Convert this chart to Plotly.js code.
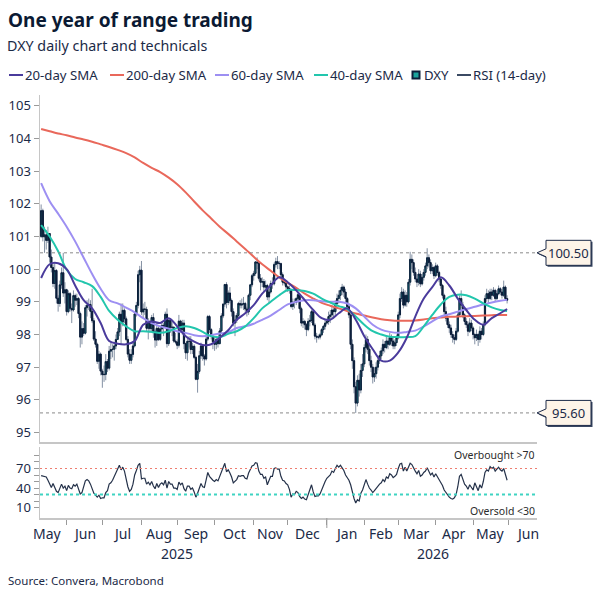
<!DOCTYPE html>
<html>
<head>
<meta charset="utf-8">
<script src="https://cdn.plot.ly/plotly-3.0.1.min.js"></script>
<style>html,body{margin:0;padding:0;background:#fff}#chart{width:601px;height:601px}</style>
</head>
<body>
<div id="chart"></div>
<script>
// ---------- DATA ----------
const firstDay = '2025-05-12';   // first trading day shown
const tradingDayCount = 275;     // 55 weeks of weekday candles

// DXY daily candles, one row per week (Mon..Fri)
const dxyOpen = [
101.00,101.79,100.99,101.05,100.88, 101.09,100.37,100.05,99.56,99.96, 99.11,98.95,99.52,99.89,99.27,
99.37,98.70,99.25,98.80,98.75, 99.19,99.05,99.10,98.64,97.92, 98.18,98.04,98.82,98.89,98.92,
98.71,98.42,97.86,97.70,97.18, 97.40,96.88,96.77,96.78,97.17, 96.97,97.49,97.54,97.55,97.65,
97.85,98.08,98.62,98.38,98.74, 98.48,97.85,97.40,97.21,97.39, 97.65,98.63,98.89,99.83,99.97,
98.69,98.78,98.77,98.19,98.39, 98.18,98.52,98.09,97.83,98.19, 97.85,98.17,98.28,98.23,98.62,
97.72,98.43,98.22,98.22,97.80, 97.77,97.67,98.41,98.15,98.35, 97.72,97.44,97.79,97.79,97.54,
97.64,97.30,96.63,96.87,97.35, 97.65,97.34,97.25,97.86,98.55, 98.15,97.94,97.78,97.70,97.85,
97.72,98.11,98.57,98.93,99.53, 98.98,99.27,99.04,98.70,98.35, 98.44,98.58,98.95,98.90,98.93,
98.95,98.78,98.69,99.20,99.52, 99.80,99.87,100.22,100.19,99.72, 99.60,99.62,99.45,99.50,99.15,
99.30,99.56,99.55,100.14,100.23, 100.18,100.17,99.83,99.60,99.58, 99.46,99.41,99.37,98.86,98.99,
98.98,99.10,99.22,98.79,98.35, 98.40,98.30,98.15,98.40,98.43, 98.70,98.29,97.95,97.92,97.92,
97.99,98.15,98.25,98.35,98.40, 98.55,98.60,98.75,98.70,98.95, 99.10,99.20,99.35,99.45,99.30,
99.10,98.85,98.60,97.70,97.20, 96.40,95.90,96.60,96.30,96.90, 97.10,97.60,97.85,97.55,97.20,
97.00,96.70,96.80,97.00,97.20, 97.35,97.50,97.70,97.60,97.80, 97.70,97.90,97.80,97.65,97.75,
97.90,98.60,99.10,99.30,98.90, 99.20,99.00,99.60,100.30,100.20, 99.90,99.70,99.60,99.85,99.55,
99.75,99.90,100.10,100.35,100.20, 99.95,100.05,99.80,100.10,99.90, 99.70,99.50,99.20,98.70,98.50,
98.30,98.20,98.00,97.90,97.85, 98.10,98.60,99.10,98.90,98.60, 98.40,98.30,98.10,98.35,98.20,
98.00,97.90,98.00,97.85,98.10, 98.00,98.30,99.10,99.25,99.10, 99.30,99.20,99.35,99.10,99.25,
99.40,99.30,99.20,99.45,99.10
];
const dxyHigh = [
101.98,101.85,101.30,101.20,101.30, 101.10,100.60,100.15,100.20,100.00, 99.20,99.65,100.05,100.50,99.60,
99.40,99.35,99.30,98.95,99.35, 99.25,99.25,99.15,98.70,98.40, 98.35,98.90,99.05,99.10,99.05,
99.40,98.50,98.10,97.75,97.50, 97.45,96.95,97.05,97.40,97.25, 97.65,97.75,97.70,97.75,98.00,
98.20,98.70,98.95,98.95,98.80, 98.55,97.95,97.55,97.55,97.80, 98.70,99.00,99.95,100.10,100.25,
98.95,99.00,98.85,98.50,98.45, 98.60,98.65,98.15,98.35,98.25, 98.25,98.40,98.35,98.70,98.80,
98.50,98.50,98.40,98.25,98.05, 97.85,98.60,98.45,98.45,98.45, 97.75,97.90,97.95,97.95,97.75,
97.70,97.35,97.10,97.50,97.75, 97.70,97.40,97.95,98.60,98.60, 98.20,98.00,97.95,97.95,97.95,
98.20,98.65,98.95,99.55,99.60, 99.35,99.45,99.10,98.80,98.60, 98.65,99.00,99.05,99.10,99.15,
99.00,98.85,99.25,99.55,99.85, 99.95,100.25,100.36,100.25,99.85, 99.75,99.70,99.65,99.55,99.40,
99.65,99.75,100.20,100.35,100.40, 100.25,100.20,99.90,99.70,99.65, 99.50,99.50,99.40,99.10,99.10,
99.15,99.30,99.25,98.85,98.50, 98.45,98.35,98.50,98.60,98.75, 98.75,98.35,98.05,98.00,98.05,
98.20,98.30,98.45,98.45,98.70, 98.75,98.90,98.85,99.05,99.25, 99.35,99.45,99.55,99.50,99.40,
99.15,98.95,98.70,97.85,97.30, 96.55,96.75,96.80,97.10,97.40, 97.70,98.00,97.95,97.65,97.35,
97.10,97.00,97.15,97.35,97.50, 97.60,97.85,97.80,97.95,97.90, 98.05,98.00,97.90,97.85,98.00,
98.70,99.25,99.45,99.40,99.35, 99.30,99.70,100.53,100.45,100.30, 100.05,99.85,100.00,99.95,99.85,
100.00,100.20,100.64,100.45,100.30, 100.15,100.10,100.20,100.15,99.95, 99.75,99.55,99.25,98.85,98.60,
98.40,98.30,98.10,98.00,98.20, 98.70,99.20,99.35,99.00,98.65, 98.50,98.40,98.50,98.45,98.25,
98.05,98.15,98.05,98.25,98.20, 98.40,99.20,99.40,99.35,99.40, 99.40,99.45,99.40,99.35,99.50,
99.45,99.40,99.65,99.50,99.20
];
const dxyLow = [
100.95,100.85,100.50,100.60,100.80, 100.20,99.90,99.45,99.40,98.95, 98.70,98.85,99.40,99.15,98.95,
98.58,98.65,98.70,98.35,98.70, 98.85,98.90,98.50,97.60,97.70, 97.95,98.00,98.55,98.75,98.50,
98.35,97.80,97.60,97.10,96.95, 96.75,96.37,96.55,96.60,96.85, 96.90,97.25,97.30,97.20,97.55,
97.85,97.95,97.70,98.25,98.35, 97.80,97.30,97.10,97.10,97.30, 97.60,98.55,98.80,99.60,98.60,
98.50,98.60,98.10,97.85,98.05, 98.10,97.90,97.60,97.65,97.80, 97.80,98.05,97.95,98.20,97.60,
97.65,98.05,97.95,97.75,97.70, 97.55,97.60,98.05,98.00,97.55, 97.25,97.20,97.60,97.40,97.40,
97.25,96.60,96.22,96.80,97.25, 97.20,97.05,97.20,97.80,98.05, 97.85,97.55,97.50,97.55,97.60,
97.70,98.05,98.50,98.85,98.80, 98.90,98.95,98.55,98.25,97.95, 98.35,98.50,98.80,98.80,98.75,
98.70,98.55,98.60,99.05,99.45, 99.65,99.80,100.00,99.65,99.35, 99.45,99.30,99.35,99.05,98.95,
99.25,99.40,99.50,100.05,100.00, 100.00,99.75,99.50,99.50,99.35, 99.30,99.25,98.80,98.75,98.80,
98.90,99.00,98.65,98.25,98.20, 98.15,97.95,98.10,98.25,98.35, 98.25,97.85,97.75,97.85,97.85,
97.95,98.05,98.15,98.30,98.30, 98.35,98.50,98.50,98.60,98.85, 98.95,99.05,99.20,99.15,98.95,
98.70,98.50,97.55,96.95,96.20, 95.60,95.80,96.10,96.20,96.70, 97.00,97.45,97.40,97.05,96.85,
96.50,96.55,96.65,96.90,97.10, 97.25,97.40,97.45,97.55,97.55, 97.65,97.65,97.55,97.55,97.65,
97.85,98.50,99.00,98.80,98.85, 98.85,98.95,99.50,100.00,99.80, 99.60,99.45,99.50,99.45,99.50,
99.65,99.80,100.00,100.05,99.85, 99.85,99.70,99.75,99.80,99.60, 99.40,99.10,98.60,98.40,98.20,
98.05,97.90,97.75,97.70,97.80, 98.05,98.55,98.80,98.50,98.30, 98.20,97.95,98.05,98.10,97.85,
97.70,97.80,97.65,97.75,97.85, 97.95,98.25,99.00,98.95,99.05, 99.05,99.15,99.00,99.05,99.20,
99.20,99.10,99.15,99.05,98.95
];
const dxyClose = [
101.79,100.99,101.05,100.88,101.09, 100.37,100.05,99.56,99.96,99.11, 98.95,99.52,99.89,99.27,99.37,
98.70,99.25,98.80,98.75,99.19, 99.05,99.10,98.64,97.92,98.18, 98.04,98.82,98.89,98.92,98.71,
98.42,97.86,97.70,97.18,97.40, 96.88,96.77,96.78,97.17,96.97, 97.49,97.54,97.55,97.65,97.85,
98.08,98.62,98.38,98.74,98.48, 97.85,97.40,97.21,97.39,97.65, 98.63,98.89,99.83,99.97,98.69,
98.78,98.77,98.19,98.39,98.18, 98.52,98.09,97.83,98.19,97.85, 98.17,98.28,98.23,98.62,97.72,
98.43,98.22,98.22,97.80,97.77, 97.67,98.41,98.15,98.35,97.72, 97.44,97.79,97.79,97.54,97.64,
97.30,96.63,96.87,97.35,97.65, 97.34,97.25,97.86,98.55,98.15, 97.94,97.78,97.70,97.85,97.72,
98.11,98.57,98.93,99.53,98.98, 99.27,99.04,98.70,98.35,98.44, 98.58,98.95,98.90,98.93,98.95,
98.78,98.69,99.20,99.52,99.80, 99.87,100.22,100.19,99.72,99.60, 99.62,99.45,99.50,99.15,99.30,
99.56,99.55,100.14,100.23,100.18, 100.17,99.83,99.60,99.58,99.46, 99.41,99.37,98.86,98.99,98.98,
99.10,99.22,98.79,98.35,98.40, 98.30,98.15,98.40,98.43,98.70, 98.29,97.95,97.92,97.92,97.99,
98.15,98.25,98.35,98.40,98.55, 98.60,98.75,98.70,98.95,99.10, 99.20,99.35,99.45,99.30,99.10,
98.85,98.60,97.70,97.20,96.40, 95.90,96.60,96.30,96.90,97.10, 97.60,97.85,97.55,97.20,97.00,
96.70,96.80,97.00,97.20,97.35, 97.50,97.70,97.60,97.80,97.70, 97.90,97.80,97.65,97.75,97.90,
98.60,99.10,99.30,98.90,99.20, 99.00,99.60,100.30,100.20,99.90, 99.70,99.60,99.85,99.55,99.75,
99.90,100.10,100.35,100.20,99.95, 100.05,99.80,100.10,99.90,99.70, 99.50,99.20,98.70,98.50,98.30,
98.20,98.00,97.90,97.85,98.10, 98.60,99.10,98.90,98.60,98.40, 98.30,98.10,98.35,98.20,98.00,
97.90,98.00,97.85,98.10,98.00, 98.30,99.10,99.25,99.10,99.30, 99.20,99.35,99.10,99.25,99.40,
99.30,99.20,99.45,99.10,99.05
];

// Moving averages, read once per week (each Monday) plus the last day
const sma20 = [99.73,100.15,100.18,100.0,99.5,99.05,98.8,98.35,97.8,97.72,97.7,97.8,98.3,98.4,98.35,98.5,98.25,97.95,97.78,97.68,97.7,97.9,98.13,98.45,98.65,98.9,99.25,99.5,99.75,99.6,99.35,99.05,98.75,98.5,98.45,98.65,98.8,98.45,97.95,97.55,97.2,97.2,97.45,97.9,98.55,99.1,99.45,99.75,99.5,99.1,98.75,98.45,98.3,98.5,98.65,98.78];
const sma200 = [104.29,104.22,104.15,104.1,104.03,103.97,103.9,103.82,103.74,103.65,103.55,103.42,103.25,103.1,102.97,102.8,102.6,102.35,102.07,101.8,101.55,101.3,101.08,100.85,100.62,100.38,100.15,99.95,99.75,99.58,99.43,99.25,99.1,98.97,98.88,98.8,98.72,98.64,98.58,98.52,98.47,98.44,98.42,98.42,98.43,98.46,98.5,98.52,98.54,98.55,98.56,98.57,98.58,98.59,98.6,98.6];
const sma60 = [102.63,102.08,101.7,101.3,100.85,100.35,99.85,99.4,99.05,98.95,98.82,98.68,98.5,98.35,98.25,98.18,98.1,98.05,97.98,97.95,97.98,98.03,98.07,98.2,98.25,98.33,98.45,98.58,98.75,98.92,99.0,99.05,99.05,99.02,99.0,99.0,98.95,98.8,98.55,98.3,98.15,98.08,98.05,98.08,98.12,98.25,98.4,98.55,98.62,98.7,98.78,98.85,98.92,98.98,99.03,99.06];
const sma40 = [101.35,101.0,100.55,99.98,99.7,99.6,99.48,99.15,98.72,98.45,98.25,98.1,98.1,98.08,98.05,98.1,98.2,98.25,98.2,98.08,97.95,97.92,98.02,98.1,98.25,98.5,98.8,99.0,99.2,99.36,99.36,99.33,99.25,99.1,98.98,98.87,98.78,98.55,98.3,98.1,98.0,97.93,97.92,97.92,97.95,98.25,98.6,98.92,99.15,99.22,99.2,99.1,98.95,98.83,98.75,98.72];

// RSI (14-day), one row per week
const rsi14 = [
59,58,58,57,52, 45,41,47,40,35, 33,39,46,40,43, 36,44,40,39,45, 43,46,37,31,33,
42,51,53,51,46, 40,32,29,26,29, 24,25,25,33,36, 46,48,52,58,62, 70,75,68,72,66,
53,42,35,38,46, 60,67,75,78,54, 55,55,46,49,45, 50,43,39,47,41, 46,48,45,52,40,
50,46,46,40,40, 38,49,45,48,39, 35,43,43,38,40, 34,26,32,41,47, 42,41,52,64,58,
54,52,50,53,51, 58,66,71,78,65, 68,63,57,48,50, 53,59,58,59,59, 55,54,63,69,74,
75,79,78,66,61, 61,55,57,45,51, 58,58,70,71,69, 69,58,52,51,47, 45,38,26,31,30,
35,33,27,24,26, 23,22,30,36,45, 34,27,28,28,31, 38,44,50,55,58, 60,66,64,70,75,
72,75,71,67,60, 56,52,45,33,24, 17,22,20,32,37, 47,53,46,40,37, 33,36,40,44,46,
48,53,50,57,55, 62,60,56,58,61, 70,77,78,66,72, 66,72,78,76,70, 66,62,67,58,60,
64,66,71,66,60, 63,57,62,58,53, 49,44,37,33,28, 26,24,23,25,30, 42,58,61,52,46,
43,38,45,41,37, 48,42,36,45,40, 50,64,68,66,73, 70,72,66,69,72, 68,66,70,60,52
];

const rangeLines = [100.5, 95.6];
const rangeLabels = ['100.50', '95.60'];
const rsiBands = {overbought: 70, oversold: 30};
const monthLabels = ['May', 'Jun', 'Jul', 'Aug', 'Sep', 'Oct', 'Nov', 'Dec', 'Jan', 'Feb', 'Mar', 'Apr', 'May', 'Jun'];
const firstMonth = {year: 2025, month: 5};
const xRange = ['2025-05-09 08:00', '2026-06-23 14:00'];
const yearLabels = ['2025', '2026'];

// ---------- helpers ----------
const iso = d => d.toISOString().slice(0, 10);
function tradingDays(start, n) {
  const out = [];
  const d = new Date(start + 'T00:00:00Z');
  while (out.length < n) {
    const w = d.getUTCDay();
    if (w !== 0 && w !== 6) out.push(iso(d));
    d.setUTCDate(d.getUTCDate() + 1);
  }
  return out;
}
function monthWeekdays(y, m) { // m: 1..12
  const out = [];
  const d = new Date(Date.UTC(y, m - 1, 1));
  while (d.getUTCMonth() === m - 1) {
    const w = d.getUTCDay();
    if (w !== 0 && w !== 6) out.push(iso(d));
    d.setUTCDate(d.getUTCDate() + 1);
  }
  return out;
}
const dates = tradingDays(firstDay, tradingDayCount);
const smaDates = [];
for (let i = 0; i < dates.length; i += 5) smaDates.push(dates[i]);
smaDates.push(dates[dates.length - 1]);
const bodyHigh = dxyOpen.map((o, i) => Math.max(o, dxyClose[i]));
const bodyLow = dxyOpen.map((o, i) => Math.min(o, dxyClose[i]));

// month boundaries (tick marks) and label centres
const monthStarts = [];
const monthCentres = [];
monthLabels.forEach((lab, i) => {
  const t = firstMonth.month - 1 + i;
  const y = firstMonth.year + Math.floor(t / 12), m = (t % 12) + 1;
  const wd = monthWeekdays(y, m);
  const n = wd.length;
  monthCentres.push(wd[Math.floor(n / 2)] + (n % 2 ? ' 12:00' : ' 00:00'));
  if (i > 0) monthStarts.push(wd[0]);
});

const FONT = '"Noto Sans", "Open Sans", sans-serif';
const INK = '#1b2a47';
const C20 = '#4a3b9c', C200 = '#e9685b', C60 = '#9d8ff2', C40 = '#22c6ad', CDXY = '#0c1e3a', CRSI = '#25324a';

// pixel -> paper helpers (plot area: x 40..537, y 95..518)
const L = 40, R = 64, T = 95, B = 83, W = 601, H = 601;
const PW = W - L - R, PH = H - T - B;
const px = v => (v - L) / PW;
const py = v => (H - B - v) / PH;

const traces = [
  {type: 'candlestick', x: dates, open: dxyOpen, high: dxyHigh, low: dxyLow, close: dxyClose,
   increasing: {line: {color: '#8390a3', width: 1}, fillcolor: '#8390a3'},
   decreasing: {line: {color: '#8390a3', width: 1}, fillcolor: '#8390a3'},
   whiskerwidth: 0, hoverinfo: 'skip', showlegend: false, xaxis: 'x', yaxis: 'y'},
  {type: 'candlestick', name: 'DXY', x: dates, open: dxyOpen, high: bodyHigh, low: bodyLow, close: dxyClose,
   increasing: {line: {color: CDXY, width: 1}, fillcolor: '#1aa39d'},
   decreasing: {line: {color: CDXY, width: 1}, fillcolor: CDXY},
   whiskerwidth: 0, showlegend: false, xaxis: 'x', yaxis: 'y'},
  {type: 'scatter', mode: 'lines', name: '200-day SMA', x: smaDates, y: sma200, line: {color: C200, width: 2, shape: 'spline'}, xaxis: 'x', yaxis: 'y'},
  {type: 'scatter', mode: 'lines', name: '60-day SMA', x: smaDates, y: sma60, line: {color: C60, width: 2, shape: 'spline'}, xaxis: 'x', yaxis: 'y'},
  {type: 'scatter', mode: 'lines', name: '40-day SMA', x: smaDates, y: sma40, line: {color: C40, width: 2, shape: 'spline'}, xaxis: 'x', yaxis: 'y'},
  {type: 'scatter', mode: 'lines', name: '20-day SMA', x: smaDates, y: sma20, line: {color: C20, width: 2, shape: 'spline'}, xaxis: 'x', yaxis: 'y'},
  {type: 'scatter', mode: 'lines', name: 'RSI (14-day)', x: dates, y: rsi14, line: {color: CRSI, width: 1.2}, xaxis: 'x2', yaxis: 'y2'}
];

const shapes = [];
const annotations = [];

// dashed range lines + callout labels
rangeLines.forEach((v, i) => {
  shapes.push({type: 'line', xref: 'paper', yref: 'y', x0: 0, x1: 1, y0: v, y1: v, line: {color: '#8a8a8a', width: 1, dash: '3px,3px'}, layer: 'above'});
  shapes.push({type: 'path', xref: 'paper', yref: 'y', xsizemode: 'pixel', ysizemode: 'pixel', xanchor: 1, yanchor: v,
    path: 'M1.5,-1.5 L10.5,2.5 L10.5,11 L55.5,11 L55.5,-14 L10.5,-14 L10.5,-5.5 Z', fillcolor: '#3a4863', line: {width: 0}, layer: 'above'});
  shapes.push({type: 'path', xref: 'paper', yref: 'y', xsizemode: 'pixel', ysizemode: 'pixel', xanchor: 1, yanchor: v,
    path: 'M0,0 L9,4 L9,12.5 L54,12.5 L54,-12.5 L9,-12.5 L9,-4 Z', fillcolor: '#fdf4e8', line: {color: '#1c2a48', width: 1}, layer: 'above'});
  annotations.push({xref: 'paper', yref: 'y', x: 1 + 31.5 / PW, y: v, text: rangeLabels[i], showarrow: false, xanchor: 'center', yanchor: 'middle', font: {size: 13, color: INK}});
});

// RSI bands
shapes.push({type: 'line', xref: 'paper', yref: 'y2', x0: 0, x1: 1, y0: rsiBands.overbought, y1: rsiBands.overbought, line: {color: '#ee7d70', width: 1.2, dash: '2px,3px'}});
shapes.push({type: 'line', xref: 'paper', yref: 'y2', x0: 0, x1: 1, y0: rsiBands.oversold, y1: rsiBands.oversold, line: {color: '#3fd3c2', width: 2, dash: '3px,3px'}});
annotations.push({xref: 'paper', yref: 'paper', x: px(537), y: py(455), text: 'Overbought >70', showarrow: false, xanchor: 'right', yanchor: 'middle', font: {size: 10.5, color: '#2b2b2b'}});
annotations.push({xref: 'paper', yref: 'paper', x: px(537), y: py(511), text: 'Oversold &lt;30', showarrow: false, xanchor: 'right', yanchor: 'middle', font: {size: 10.5, color: '#2b2b2b'}});

// longer year tick at January
shapes.push({type: 'line', xref: 'x2', yref: 'paper', x0: '2026-01-01', x1: '2026-01-01', y0: 0, y1: -10 / PH, line: {color: '#9a9a9a', width: 1}});

// month labels centred in each month
monthLabels.forEach((lab, i) => {
  annotations.push({xref: 'x2', yref: 'paper', x: monthCentres[i], y: py(533), text: lab, showarrow: false, xanchor: 'center', yanchor: 'middle', font: {size: 14, color: INK}});
});

// year labels
annotations.push({xref: 'paper', yref: 'paper', x: px(177), y: py(553), text: yearLabels[0], showarrow: false, xanchor: 'center', yanchor: 'middle', font: {size: 14, color: INK}});
annotations.push({xref: 'paper', yref: 'paper', x: px(433), y: py(553), text: yearLabels[1], showarrow: false, xanchor: 'center', yanchor: 'middle', font: {size: 14, color: INK}});

// subtitle + source
annotations.push({xref: 'paper', yref: 'paper', x: px(5), y: py(46), text: 'DXY daily chart and technicals', showarrow: false, xanchor: 'left', yanchor: 'middle', font: {size: 14.3, color: INK}});
annotations.push({xref: 'paper', yref: 'paper', x: px(6), y: py(580), text: 'Source: Convera, Macrobond', showarrow: false, xanchor: 'left', yanchor: 'middle', font: {size: 11.5, color: INK}});

// custom legend
const legendItems = [
  {name: '20-day SMA', color: C20, x: 9},
  {name: '200-day SMA', color: C200, x: 110},
  {name: '60-day SMA', color: C60, x: 215},
  {name: '40-day SMA', color: C40, x: 314},
  {name: 'DXY', color: CDXY, x: 411, box: true},
  {name: 'RSI (14-day)', color: '#3b4a63', x: 457}
];
const LY = 75;
legendItems.forEach(it => {
  if (it.box) {
    shapes.push({type: 'rect', xref: 'paper', yref: 'paper', x0: px(it.x + 1.5), x1: px(it.x + 8.5), y0: py(LY + 3.5), y1: py(LY - 3.5), fillcolor: '#1aa39d', line: {color: CDXY, width: 2}});
    annotations.push({xref: 'paper', yref: 'paper', x: px(it.x + 11), y: py(LY), text: it.name, showarrow: false, xanchor: 'left', yanchor: 'middle', font: {size: 13.2, color: INK}});
  } else {
    shapes.push({type: 'line', xref: 'paper', yref: 'paper', x0: px(it.x), x1: px(it.x + 14), y0: py(LY), y1: py(LY), line: {color: it.color, width: 2}});
    annotations.push({xref: 'paper', yref: 'paper', x: px(it.x + 14), y: py(LY), text: it.name, showarrow: false, xanchor: 'left', yanchor: 'middle', font: {size: 13.2, color: INK}});
  }
});

const rsiTickVals = [10, 20, 30, 40, 50, 60, 70, 80, 90];
const rsiTickText = rsiTickVals.map(v => (v === 10 || v === 40 || v === 70) ? String(v) : '');
const weekendBreak = [{bounds: ['sat', 'mon']}];

const layout = {
  width: W, height: H,
  margin: {l: L, r: R, t: T, b: B, pad: 0},
  paper_bgcolor: '#ffffff', plot_bgcolor: '#ffffff',
  showlegend: false,
  boxgap: 0.05,
  font: {family: FONT, color: INK, size: 13},
  title: {text: '<b>One year of range trading</b>', x: 8 / W, xanchor: 'left', xref: 'container', y: 1 - 20 / H, yanchor: 'middle', yref: 'container', font: {size: 19, color: '#0b1a33', family: FONT}},
  xaxis: {type: 'date', range: xRange, rangebreaks: weekendBreak, domain: [0, 1], anchor: 'y', showticklabels: false, ticks: '', showline: true, linecolor: '#c6c6c6', linewidth: 1.5, showgrid: false, zeroline: false, rangeslider: {visible: false}, fixedrange: true},
  yaxis: {domain: [py(442), 1], range: [94.71, 105.33], tickmode: 'linear', tick0: 95, dtick: 1, ticks: 'outside', ticklen: 5, tickcolor: '#9a9a9a', showline: true, linecolor: '#c6c6c6', linewidth: 1.5, showgrid: false, zeroline: false, tickfont: {size: 13, color: INK}, fixedrange: true},
  xaxis2: {type: 'date', matches: 'x', rangebreaks: weekendBreak, anchor: 'y2', domain: [0, 1], tickmode: 'array', tickvals: monthStarts, ticktext: monthStarts.map(() => ''), ticks: 'outside', ticklen: 5, tickcolor: '#9a9a9a', showline: true, linecolor: '#c6c6c6', linewidth: 1.5, showgrid: false, zeroline: false, tickfont: {size: 14, color: INK}, rangeslider: {visible: false}},
  yaxis2: {domain: [0, py(447)], range: [-6, 103], tickmode: 'array', tickvals: rsiTickVals, ticktext: rsiTickText, ticks: 'outside', ticklen: 5, tickcolor: '#9a9a9a', showline: true, linecolor: '#c6c6c6', linewidth: 1.5, showgrid: false, zeroline: false, tickfont: {size: 13, color: INK}, fixedrange: true},
  shapes: shapes,
  annotations: annotations
};

Plotly.newPlot('chart', traces, layout, {displayModeBar: false, staticPlot: true});
</script>
</body>
</html>
